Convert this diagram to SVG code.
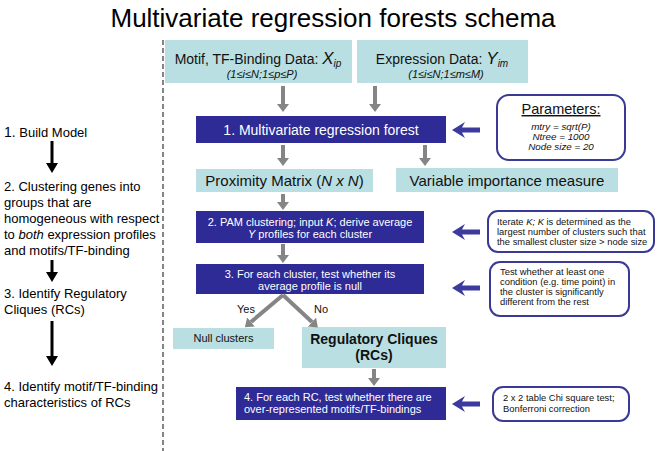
<svg xmlns="http://www.w3.org/2000/svg" width="661" height="451" viewBox="0 0 661 451">
<style>
text{font-family:"Liberation Sans",Arial,Helvetica,sans-serif;}
.lb{fill:#b9dfe2;}
.db{fill:#2e2a96;}
.rb{fill:#ffffff;stroke:#3a3a96;stroke-width:2;}
.wt{fill:#ffffff;font-size:11px;}
.st{fill:#111;font-size:9.4px;}
.lt{fill:#000;font-size:13px;}
.ga{stroke:#858585;stroke-width:4;fill:none;}
.ba{stroke:#000;stroke-width:3;fill:none;}
.bl{fill:#3b3b9e;}
</style>
<defs>
<marker id="gh" viewBox="0 0 8 12" refX="0" refY="6" markerWidth="8" markerHeight="12" markerUnits="userSpaceOnUse" orient="auto"><path d="M0,0 L8,6 L0,12 z" fill="#858585"/></marker>
<marker id="bh" viewBox="0 0 10 12" refX="0" refY="6" markerWidth="10" markerHeight="12" markerUnits="userSpaceOnUse" orient="auto"><path d="M0,0 L10,6 L0,12 z" fill="#000"/></marker>
<path id="blarrow" d="M0,0 L13,-8 L10,-2.5 L28,-2.5 L28,2.5 L10,2.5 L13,8 Z"/>
</defs>

<text x="333" y="27" font-size="26" text-anchor="middle" fill="#000">Multivariate regression forests schema</text>
<line x1="163" y1="40" x2="163" y2="451" stroke="#333" stroke-width="1.2" stroke-dasharray="5,3"/>

<g id="left-steps">
<text class="lt" x="4" y="137"><tspan font-size="14">1.</tspan> Build Model</text>
<text class="lt" x="4" y="191">2. Clustering genes into</text>
<text class="lt" x="4" y="207">groups that are</text>
<text class="lt" x="4" y="223">homogeneous with respect</text>
<text class="lt" x="4" y="239">to <tspan font-style="italic">both</tspan> expression profiles</text>
<text class="lt" x="4" y="255">and motifs/TF-binding</text>
<text class="lt" x="4" y="298">3. Identify Regulatory</text>
<text class="lt" x="4" y="314">Cliques (RCs)</text>
<text class="lt" x="4" y="391">4. Identify motif/TF-binding</text>
<text class="lt" x="4" y="407">characteristics of RCs</text>
</g>

<g id="n-motif">
<rect class="lb" x="165" y="40" width="187" height="43"/>
<text x="258" y="64" font-size="14" text-anchor="middle" fill="#111">Motif, TF-Binding Data: <tspan font-style="italic" font-size="17">X</tspan><tspan font-style="italic" font-size="10" dy="3">ip</tspan></text>
<text x="262" y="78" font-size="11" font-style="italic" text-anchor="middle" fill="#111">(1≤i≤N;1≤p≤P)</text>
</g>
<g id="n-expr">
<rect class="lb" x="357" y="40" width="171" height="43"/>
<text x="442" y="64" font-size="14" text-anchor="middle" fill="#111">Expression Data: <tspan font-style="italic" font-size="17">Y</tspan><tspan font-style="italic" font-size="10" dy="3">im</tspan></text>
<text x="446" y="78" font-size="11" font-style="italic" text-anchor="middle" fill="#111">(1≤i≤N;1≤m≤M)</text>
</g>
<g id="n-mrf">
<rect class="db" x="196" y="116" width="250" height="27"/>
<text x="321" y="135" font-size="14" text-anchor="middle" fill="#fff">1. Multivariate regression forest</text>
</g>
<g id="n-params">
<rect class="rb" x="497" y="95" width="128" height="65" rx="12"/>
<text x="561" y="114" font-size="14.5" text-anchor="middle" text-decoration="underline" fill="#111">Parameters:</text>
<text x="561" y="130" font-size="9.8" font-style="italic" text-anchor="middle" fill="#111">mtry = sqrt(P)</text>
<text x="561" y="140" font-size="9.8" font-style="italic" text-anchor="middle" fill="#111">Ntree = 1000</text>
<text x="561" y="150" font-size="9.8" font-style="italic" text-anchor="middle" fill="#111">Node size = 20</text>
</g>
<g id="n-prox">
<rect class="lb" x="196" y="169" width="177" height="23"/>
<text x="284.5" y="186" font-size="15" text-anchor="middle" fill="#111">Proximity Matrix (<tspan font-style="italic">N x N</tspan>)</text>
</g>
<g id="n-varimp">
<rect class="lb" x="396" y="168" width="222" height="24"/>
<text x="507" y="186" font-size="15" text-anchor="middle" fill="#111">Variable importance measure</text>
</g>
<g id="n-pam">
<rect class="db" x="196" y="211" width="228" height="32"/>
<text class="wt" x="310" y="226" text-anchor="middle">2. PAM clustering; input <tspan font-style="italic">K</tspan>; derive average</text>
<text class="wt" x="310" y="238" text-anchor="middle"><tspan font-style="italic">Y</tspan> profiles for each cluster</text>
</g>
<g id="n-iterate">
<rect class="rb" x="488" y="211" width="166" height="41" rx="10"/>
<text class="st" x="497" y="225">Iterate <tspan font-style="italic">K; K</tspan> is determined as the</text>
<text class="st" x="497" y="235">largest number of clusters such that</text>
<text class="st" x="497" y="245">the smallest cluster size &gt; node size</text>
</g>
<g id="n-test">
<rect class="db" x="196" y="264" width="228" height="30"/>
<text class="wt" x="310" y="278" text-anchor="middle">3. For each cluster, test whether its</text>
<text class="wt" x="310" y="290" text-anchor="middle">average profile is null</text>
</g>
<g id="n-testnote">
<rect class="rb" x="490" y="262" width="139" height="54" rx="10"/>
<text class="st" x="500" y="275">Test whether at least one</text>
<text class="st" x="500" y="285">condition (e.g. time point) in</text>
<text class="st" x="500" y="295">the cluster is significantly</text>
<text class="st" x="500" y="305">different from the rest</text>
</g>
<g id="n-null">
<rect class="lb" x="173" y="328" width="101" height="21"/>
<text x="223.5" y="342" font-size="11" text-anchor="middle" fill="#111">Null clusters</text>
</g>
<g id="n-rc">
<rect class="lb" x="302" y="327" width="144" height="41"/>
<text x="374" y="344" font-size="14" font-weight="bold" text-anchor="middle" fill="#111">Regulatory Cliques</text>
<text x="374" y="360" font-size="14" font-weight="bold" text-anchor="middle" fill="#111">(RCs)</text>
</g>
<g id="n-motiftest">
<rect class="db" x="236" y="387" width="210" height="33"/>
<text class="wt" x="244" y="401">4. For each RC, test whether there are</text>
<text class="wt" x="244" y="413">over-represented motifs/TF-bindings</text>
</g>
<g id="n-chi">
<rect class="rb" x="493" y="387" width="136" height="34" rx="10"/>
<text class="st" x="503" y="401">2 x 2 table Chi square test;</text>
<text class="st" x="503" y="412">Bonferroni correction</text>
</g>

<g id="connectors">
<line class="ga" x1="283" y1="86" x2="283" y2="104" marker-end="url(#gh)"/>
<line class="ga" x1="375" y1="86" x2="375" y2="104" marker-end="url(#gh)"/>
<line class="ga" x1="283" y1="145" x2="283" y2="158" marker-end="url(#gh)"/>
<line class="ga" x1="425" y1="145" x2="425" y2="158" marker-end="url(#gh)"/>
<line class="ga" x1="283" y1="194" x2="283" y2="202" marker-end="url(#gh)"/>
<line class="ga" x1="283" y1="244" x2="283" y2="255" marker-end="url(#gh)"/>
<line class="ga" x1="283" y1="295" x2="251" y2="322" marker-end="url(#gh)"/>
<line class="ga" x1="283" y1="295" x2="312" y2="322" marker-end="url(#gh)"/>
<line class="ga" x1="374" y1="369" x2="374" y2="378" marker-end="url(#gh)"/>
<text x="246" y="313" font-size="11" text-anchor="middle" fill="#111">Yes</text>
<text x="321" y="313" font-size="11" text-anchor="middle" fill="#111">No</text>
<line class="ba" x1="52" y1="141" x2="52" y2="163" marker-end="url(#bh)"/>
<line class="ba" x1="52" y1="260" x2="52" y2="272" marker-end="url(#bh)"/>
<line class="ba" x1="52" y1="321" x2="52" y2="356" marker-end="url(#bh)"/>
<use href="#blarrow" class="bl" x="452" y="130"/>
<use href="#blarrow" class="bl" x="452" y="232"/>
<use href="#blarrow" class="bl" x="452" y="288"/>
<use href="#blarrow" class="bl" x="452" y="404"/>
</g>
</svg>
